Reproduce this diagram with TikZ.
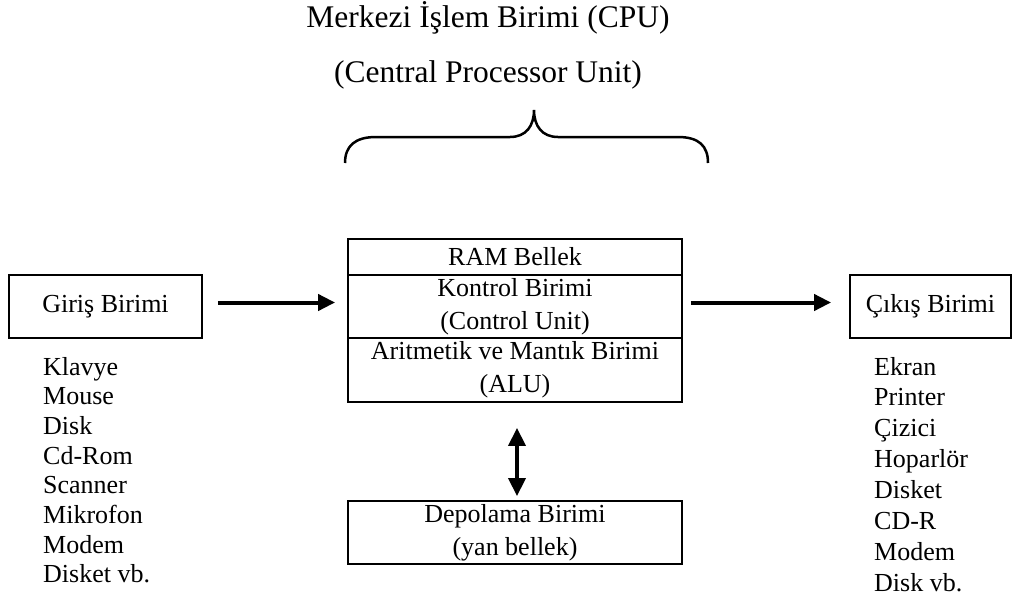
\documentclass[tikz,border=0pt]{standalone}
\usepackage{fontspec}
\setmainfont{Liberation Serif}
\usetikzlibrary{arrows.meta}

\tikzset{
  unitbox/.style={draw, line width=1.8pt, inner sep=0pt, align=center,
    font=\fontsize{26}{33}\selectfont},
  itemtext/.style={anchor=base west, inner sep=0pt, font=\fontsize{26}{30}\selectfont},
  bigarrow/.style={line width=4pt, -{Triangle[length=17pt,width=16pt]}},
  dblarrow/.style={line width=3.5pt, {Triangle[length=18pt,width=17pt]}-{Triangle[length=18pt,width=17pt]}},
  brace/.style={line width=2.5pt}
}

\begin{document}
\begin{tikzpicture}[x=1pt, y=-1pt]
          \useasboundingbox (0,0) rectangle (1012,600);

          % title of the cpu
          \node[font=\fontsize{31.5}{36}\selectfont, anchor=base] (title) at (488,27) {Merkezi İşlem Birimi (CPU)};
          \node[font=\fontsize{31.5}{36}\selectfont, anchor=base] (subtitle) at (488,82) {(Central Processor Unit)};

          % brace over the cpu
          \draw[brace] (345,163) .. controls (345,146) and (355,137) .. (376,137) -- (510,137)
                .. controls (526,137) and (534,126) .. (534,110)
                .. controls (534,126) and (542,137) .. (558,137) -- (678,137)
                .. controls (699,137) and (708,146) .. (708,163);

          % cpu parts
          \node[unitbox, minimum width=334pt, minimum height=36pt] (ram) at (515,257) {RAM Bellek};
          \node[unitbox, minimum width=334pt, minimum height=63pt] (kontrol) at (515,306.5) {Kontrol Birimi\\(Control Unit)};
          \node[unitbox, minimum width=334pt, minimum height=64pt] (alu) at (515,370) {Aritmetik ve Mantık Birimi\\(ALU)};

          % storage
          \node[unitbox, minimum width=334pt, minimum height=63pt] (depo) at (515,532.5) {Depolama Birimi\\(yan bellek)};

          % input and output
          \node[unitbox, minimum width=193pt, minimum height=63pt] (giris) at (105.5,306.5) {Giriş Birimi};
          \node[unitbox, minimum width=161pt, minimum height=63pt] (cikis) at (930.5,306.5) {Çıkış Birimi};

          % arrows
          \draw[bigarrow, shorten <=15pt, shorten >=12pt] ([yshift=4pt]giris.east) -- ([yshift=4pt]kontrol.west);
          \draw[bigarrow, shorten <=8pt, shorten >=18pt] ([yshift=4pt]kontrol.east) -- ([yshift=4pt]cikis.west);
          \draw[dblarrow, shorten <=25pt, shorten >=4pt] ([xshift=2pt]alu.south) -- ([xshift=2pt]depo.north);

          % input devices
          \foreach \dev [count=\i] in {Klavye, Mouse, Disk, Cd-Rom, Scanner, Mikrofon, Modem, Disket vb.}
            \node[itemtext] (in\i) at (43,{375+29.7*(\i-1)}) {\dev};

          % output devices
          \foreach \dev [count=\i] in {Ekran, Printer, Çizici, Hoparlör, Disket, CD-R, Modem, Disk vb.}
            \node[itemtext] (out\i) at (874,{375+30.9*(\i-1)}) {\dev};
        \end{tikzpicture}
\end{document}
